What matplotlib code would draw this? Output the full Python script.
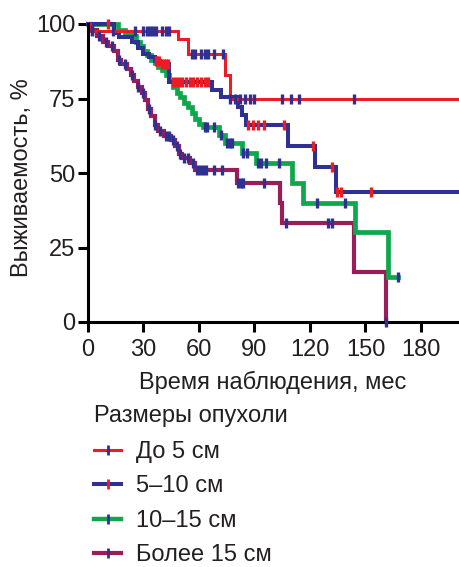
import numpy as np
import matplotlib
matplotlib.use("Agg")
import matplotlib.pyplot as plt
from matplotlib.lines import Line2D

plt.rcParams['font.family'] = ['Liberation Sans', 'DejaVu Sans']
TXT = '#231F20'
plt.rcParams['text.color'] = TXT
plt.rcParams['axes.labelcolor'] = TXT
plt.rcParams['xtick.labelcolor'] = TXT
plt.rcParams['ytick.labelcolor'] = TXT

# ---- data (Kaplan-Meier steps: event times in months, survival % after step) ----
red_t = [0, 1, 48.5, 54, 74, 76.5]
red_s = [100, 97.5, 95, 90, 83, 75]
red_end = 200
red_cens = [2, 13.5, 25.5, 30, 32, 33.5, 35, 37, 40, 42, 44,
            56, 58, 61, 63, 65, 68, 73,
            77, 79.5, 82, 85, 87.5, 90, 105, 110, 114, 144]

blue_t = [0, 14, 17, 24, 27, 30, 33, 36, 39, 44, 67, 72, 81, 83.5, 85.5, 108, 122.5, 134]
blue_s = [100, 97, 95.5, 94, 92, 90, 89, 87.5, 86.5, 80.5, 78, 75.5, 72, 69.5, 66, 59, 52, 43.6]
blue_end = 200
blue_cens = [11, 36.5, 37.5, 38.5, 40, 41, 42, 43,
             46, 47.5, 49, 51, 53, 55, 57, 59, 61, 63.5, 65,
             86.5, 89, 92, 95, 106, 121.6, 132, 134.5, 136.5, 153]

green_t = [0, 16, 20, 24, 26, 28, 30, 32, 34, 36, 38, 40, 42, 44, 46, 48, 50, 52, 54,
           56, 58, 60, 62, 71, 74, 83, 91, 110.5, 116, 144.5, 162]
green_s = [100, 98, 97, 96, 94, 92.5, 91, 89.5, 88, 87, 85.5, 84.5, 83, 81, 79, 77, 75.5,
           73.5, 72, 70, 68, 66.5, 65.4, 62.7, 60, 56.7, 53.4, 46.6, 40, 30.2, 15.1]
green_end = 167.5
green_cens = [63, 64.5, 68, 72, 75, 77, 78, 84, 86, 92, 93.5, 96, 103,
              124, 139, 167.5]

maroon_t = [0, 1.5, 5, 8, 11, 14, 16, 18, 21, 23, 25, 27, 29, 31, 32.5, 34, 36, 38, 41,
            45, 47, 49, 51, 55, 58, 80.3, 104, 105, 144, 161]
maroon_s = [100, 98, 96, 94, 92.5, 91, 88, 86.5, 85, 83, 81, 79, 77, 74.5, 71.5, 69, 66,
            64, 62.5, 61, 59, 56.5, 55, 53.5, 51, 46.7, 40, 33.3, 16.7, 0]
maroon_end = 161
maroon_cens = [2, 6, 10, 13, 17, 20, 24, 27, 30, 33, 36, 39, 42, 44, 46, 48, 50, 52, 54,
               57, 59, 60.5, 62, 64, 68, 72.5, 81, 82.5, 84, 95, 107, 130, 132, 161]

series_labels = ["До 5 см", "5–10 см", "10–15 см", "Более 15 см"]
xticks = [0, 30, 60, 90, 120, 150, 180]
yticks = [0, 25, 50, 75, 100]

RED = '#ED1C24'
BLUE = '#2E3192'
GREEN = '#0DA84B'
MAROON = '#9B1D57'
FS = 17

fig = plt.figure(figsize=(4.6, 5.67), dpi=100)
ax = fig.add_axes([88/460, 1-322/567, 370/460, (322-24)/567])

series = [
    (maroon_t, maroon_s, maroon_end, maroon_cens, MAROON, 3.0, BLUE),
    (green_t, green_s, green_end, green_cens, GREEN, 3.4, BLUE),
    (blue_t, blue_s, blue_end, blue_cens, BLUE, 2.9, RED),
    (red_t, red_s, red_end, red_cens, RED, 2.2, BLUE),
]

for t, s, end, cens, col, lw, tcol in series:
    tt = list(t) + [end]
    ss = list(s) + [s[-1]]
    ax.step(tt, ss, where='post', color=col, lw=lw, clip_on=False, zorder=2,
            solid_joinstyle='miter')

for t, s, end, cens, col, lw, tcol in series:
    idx = np.searchsorted(np.array(t), np.array(cens), side='right') - 1
    cy = np.array(s)[idx]
    ax.plot(cens, cy, linestyle='none', marker='|', markersize=7, mew=2.4,
            color=tcol, clip_on=False, zorder=3)

ax.set_xlim(0, 200)
ax.set_ylim(0, 100)
ax.set_xticks(xticks)
ax.set_yticks(yticks)
for sp in ['top', 'right']:
    ax.spines[sp].set_visible(False)
for sp in ['left', 'bottom']:
    ax.spines[sp].set_linewidth(2.2)
ax.tick_params(direction='out', length=7, width=2.2, labelsize=FS, pad=2, color='black')
ax.tick_params(axis='x', pad=5)
ax.set_xlabel("Время наблюдения, мес", fontsize=FS, labelpad=7)
ax.set_ylabel("Выживаемость, %", fontsize=FS)
ax.yaxis.set_label_coords(-0.148, 0.485)

handles = [
    Line2D([], [], color=RED, lw=2.2, marker='|', markersize=7, mew=2, markeredgecolor=BLUE),
    Line2D([], [], color=BLUE, lw=2.9, marker='|', markersize=7, mew=2, markeredgecolor=RED),
    Line2D([], [], color=GREEN, lw=3.2, marker='|', markersize=7, mew=2, markeredgecolor=BLUE),
    Line2D([], [], color=MAROON, lw=3.0, marker='|', markersize=7, mew=2, markeredgecolor=BLUE),
]
leg = fig.legend(handles, series_labels, title="Размеры опухоли", loc='upper left',
                 bbox_to_anchor=(94/460, 1-405/567), frameon=False, fontsize=FS,
                 title_fontsize=FS, numpoints=1, handlelength=1.15, handletextpad=0.65,
                 labelspacing=0.53, borderpad=0, borderaxespad=0, alignment='left')
leg._legend_box.sep = 10

fig.savefig("out.png", dpi=100)
